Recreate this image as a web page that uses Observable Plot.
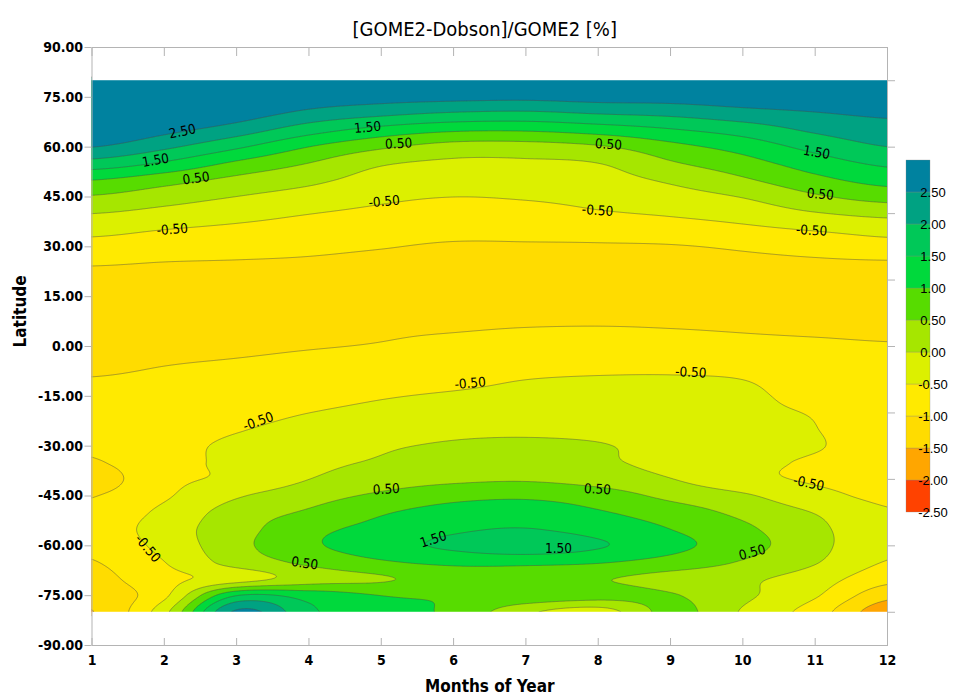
<!DOCTYPE html>
<html><head><meta charset="utf-8">
<script src="https://cdn.jsdelivr.net/npm/d3@7"></script>
<script src="https://cdn.jsdelivr.net/npm/@observablehq/plot@0.6"></script>
<style>
body{margin:0;background:#fff;}
#chart{width:963px;height:696px;}
</style></head><body><div id="chart"></div>
<script>
// ---- data ----
const months = [1,2,3,4,5,6,7,8,9,10,11,12];
const latitudes = d3.range(-80, 81, 5); // -80 ... 80
// one array per month, values at latitudes -80, -75, ..., 80
const jan = [-1.52,-1.33,-1.18,-1.03,-0.88,-0.84,-0.88,-1.02,-1.25,-1.05,-0.92,-0.83,-0.82,-0.88,-0.98,-1.10,-1.20,-1.28,-1.30,-1.30,-1.20,-0.96,-0.68,-0.37,0.00,0.45,0.99,1.78,2.50,3.00,3.50,4.00,4.50];
const feb = [-0.15,-0.60,-0.65,-0.51,-0.35,-0.25,-0.38,-0.56,-0.63,-0.68,-0.67,-0.72,-0.77,-0.83,-0.92,-1.02,-1.15,-1.27,-1.30,-1.30,-1.20,-1.02,-0.77,-0.51,-0.16,0.22,0.69,1.41,2.09,2.63,3.10,3.60,4.10];
const mar = [2.60,1.50,-0.25,0.20,0.35,0.30,0.22,-0.05,-0.40,-0.38,-0.40,-0.53,-0.65,-0.75,-0.85,-0.96,-1.10,-1.22,-1.28,-1.28,-1.20,-1.04,-0.84,-0.61,-0.33,-0.01,0.36,0.89,1.57,2.23,2.77,3.25,3.75];
const apr = [1.60,1.30,0.25,0.60,0.90,0.85,0.57,0.30,0.00,-0.12,-0.20,-0.35,-0.50,-0.65,-0.78,-0.88,-1.03,-1.15,-1.25,-1.27,-1.20,-1.06,-0.91,-0.70,-0.49,-0.20,0.11,0.48,0.99,1.69,2.34,2.87,3.37];
const may = [1.15,1.00,0.45,0.93,1.30,1.15,0.95,0.60,0.25,0.05,-0.05,-0.20,-0.38,-0.53,-0.68,-0.80,-0.97,-1.06,-1.18,-1.22,-1.18,-1.10,-0.98,-0.80,-0.61,-0.41,-0.20,0.05,0.57,1.29,2.10,2.72,3.22];
const jun = [0.90,0.95,0.70,1.10,1.60,1.42,1.20,0.85,0.40,0.18,0.05,-0.10,-0.30,-0.45,-0.60,-0.73,-0.90,-1.02,-1.15,-1.18,-1.17,-1.12,-1.05,-0.87,-0.69,-0.50,-0.30,-0.10,0.29,1.05,1.92,2.65,3.15];
const jul = [0.10,0.85,0.75,1.10,1.85,1.52,1.25,0.92,0.45,0.20,0.08,-0.08,-0.28,-0.40,-0.50,-0.68,-0.87,-0.98,-1.12,-1.16,-1.16,-1.11,-1.04,-0.88,-0.67,-0.46,-0.28,-0.09,0.28,1.03,1.87,2.62,3.14];
const aug = [-0.25,0.70,0.55,1.03,1.55,1.30,1.05,0.75,0.30,0.08,0.03,-0.12,-0.28,-0.38,-0.46,-0.65,-0.85,-0.97,-1.10,-1.15,-1.15,-1.10,-1.04,-0.83,-0.55,-0.36,-0.19,-0.01,0.43,1.19,2.00,2.70,3.20];
const sep = [0.65,0.55,0.30,0.80,1.15,1.00,0.75,0.38,0.02,-0.15,-0.15,-0.20,-0.32,-0.40,-0.45,-0.66,-0.86,-0.99,-1.10,-1.15,-1.15,-1.10,-1.03,-0.74,-0.45,-0.20,0.07,0.43,0.83,1.43,2.10,2.72,3.22];
const oct = [-0.05,0.10,0.10,0.45,0.70,0.60,0.38,0.08,-0.35,-0.38,-0.30,-0.30,-0.40,-0.42,-0.50,-0.70,-0.90,-1.02,-1.12,-1.16,-1.15,-1.08,-0.95,-0.62,-0.30,0.02,0.42,0.79,1.19,1.70,2.29,2.83,3.33];
const nov = [-0.75,-0.45,-0.25,0.03,0.15,0.12,-0.02,-0.35,-0.55,-0.55,-0.47,-0.49,-0.53,-0.65,-0.73,-0.80,-0.93,-1.05,-1.14,-1.18,-1.15,-1.06,-0.85,-0.48,-0.04,0.42,0.85,1.24,1.65,2.07,2.45,2.93,3.43];
const dec = [-1.85,-1.35,-0.85,-0.53,-0.40,-0.38,-0.45,-0.60,-0.60,-0.65,-0.68,-0.70,-0.75,-0.80,-0.87,-0.90,-0.97,-1.08,-1.16,-1.20,-1.15,-1.05,-0.71,-0.33,0.13,0.69,1.17,1.58,1.99,2.30,2.60,3.17,3.67];
const monthSeries = [jan, feb, mar, apr, may, jun, jul, aug, sep, oct, nov, dec];

const thresholds = [-2.5,-2,-1.5,-1,-0.5,0,0.5,1,1.5,2,2.5];
const bandColors = ["#ff4200","#ffa600","#ffdc00","#ffea00","#dcf000","#a6e600","#57dc00","#00d93c","#00c858","#00a282","#00829f"];
const latTicks = d3.range(-90, 91, 15);
const rightTicks = d3.range(-80, 81, 20);
const labelMonths = [2.25,1.88,2.44,2.11,4.81,5.24,5.04,8.14,7.99,11.02,11.07,10.95,3.30,6.23,9.28,10.91,5.07,7.99,5.72,7.45,3.94,10.13,1.77];
const labelLats   = [64.7,56.0,50.6,35.2,65.9,61.0,43.6,60.8,40.9,58.4,45.8,34.9,-22.6,-11.1,-7.8,-41.2,-43.0,-43.0,-58.1,-60.8,-65.3,-62.0,-60.8];
const labelTexts  = ["2.50","1.50","0.50","-0.50","1.50","0.50","-0.50","0.50","-0.50","1.50","0.50","-0.50","-0.50","-0.50","-0.50","-0.50","0.50","0.50","1.50","1.50","0.50","0.50","-0.50"];
const labelAngles = [-12,-10,-8,-4,-5,-3,-5,3,4,10,5,3,-20,-5,3,12,-3,3,-18,0,8,-15,50];

// ---- smooth field through the read values (Catmull-Rom) ----
function cr(p0,p1,p2,p3,t){
  return 0.5*((2*p1)+(-p0+p2)*t+(2*p0-5*p1+4*p2-p3)*t*t+(-p0+3*p1-3*p2+p3)*t*t*t);
}
const nM = months.length, nL = latitudes.length, dLat = latitudes[1]-latitudes[0];
function field(m, lat){
  const u = Math.max(0, Math.min(nM-1, m - months[0]));
  const v = Math.max(0, Math.min(nL-1, (lat - latitudes[0]) / dLat));
  const i = Math.min(Math.floor(u), nM-2), t = u - i;
  const j = Math.min(Math.floor(v), nL-2), s = v - j;
  const ci = k => monthSeries[Math.max(0, Math.min(nM-1, k))];
  const cj = k => Math.max(0, Math.min(nL-1, k));
  const row = jj => { const q = cj(jj); return cr(ci(i-1)[q], ci(i)[q], ci(i+1)[q], ci(i+2)[q], t); };
  return cr(row(j-1), row(j), row(j+1), row(j+2), s);
}

const fmt2 = d => d3.format(".2f")(d).replace("\u2212", "-");
const contourLabels = labelTexts.map((text, k) => ({month: labelMonths[k], lat: labelLats[k], text, angle: labelAngles[k]}));
const latMin = latitudes[0], latMax = latitudes[nL-1];
const gray = "#b4b4b4";
const condensed = '"DejaVu Sans Condensed", "DejaVu Sans", sans-serif';

const plot = Plot.plot({
  width: 963, height: 696,
  marginTop: 47, marginBottom: 51, marginLeft: 91.5, marginRight: 76,
  x: {domain: [months[0], months[nM-1]]},
  y: {domain: [-90, 90]},
  color: {type: "threshold", domain: thresholds.slice(1), range: bandColors},
  style: {fontFamily: condensed, fontStretch: "condensed", background: "white", color: "black"},
  marks: [
    Plot.contour({
      fill: field,
      x1: months[0] - 0.1, x2: months[nM-1] + 0.1, y1: latMin - 1, y2: latMax + 1,
      thresholds, pixelSize: 1,
      stroke: "#4a4a4a", strokeWidth: 0.55, strokeOpacity: 0.85,
      clip: "frame"
    }),
    Plot.rect([[latMax, 90], [-90, latMin]], {x1: months[0], x2: months[nM-1], y1: d => d[0], y2: d => d[1], fill: "white"}),
    Plot.text(contourLabels, {x: "month", y: "lat", text: "text", rotate: "angle", fontSize: 13.5, fill: "black", fontFamily: condensed}),
    Plot.frame({stroke: gray}),
    Plot.axisY({ticks: latTicks, tickSize: 7, tickPadding: 2, tickFormat: fmt2, fontWeight: "bold", fontSize: 14, label: null, stroke: gray, fill: "black"}),
    Plot.axisY({anchor: "right", ticks: rightTicks, tickSize: 7, tickFormat: () => "", label: null, stroke: gray}),
    Plot.axisX({anchor: "top", ticks: months, tickSize: -8, tickFormat: () => "", label: null, stroke: gray}),
    Plot.axisX({anchor: "bottom", ticks: months, tickSize: -7, tickFormat: () => "", label: null, stroke: gray}),
    Plot.axisX({anchor: "bottom", ticks: months, tickSize: 0, tickPadding: 10, fontWeight: "bold", fontSize: 14, label: null, fill: "black"}),
    Plot.text(["[GOME2-Dobson]/GOME2 [%]"], {frameAnchor: "top", dy: -26, dx: -5, fontSize: 20, fill: "black"}),
    Plot.text(["Months of Year"], {frameAnchor: "bottom", dy: 46, fontSize: 17, fontWeight: "bold", fill: "black"}),
    Plot.text(["Latitude"], {frameAnchor: "left", dx: -71, dy: 1, rotate: -90, fontSize: 17, fontWeight: "bold", fill: "black"})
  ]
});
document.getElementById("chart").appendChild(plot);

// ---- vertical colour bar on the right ----
const svg = d3.select(plot);
const ly = d3.scaleLinear().domain([thresholds[0], thresholds[thresholds.length-1] + 0.5]).range([512, 160]);
const lg = svg.append("g");
lg.selectAll("rect").data(thresholds).join("rect")
  .attr("x", 906).attr("width", 24)
  .attr("y", (d) => ly(d + 0.5)).attr("height", (d) => ly(d) - ly(d + 0.5))
  .attr("fill", (d, k) => bandColors[k])
  .attr("stroke", "#888").attr("stroke-width", 0.3);
lg.selectAll("text").data(thresholds).join("text")
  .attr("x", 933).attr("y", (d) => ly(d)).attr("dy", "0.35em")
  .attr("font-family", '"Liberation Sans", Arial, sans-serif').attr("font-size", 13)
  .attr("fill", "black")
  .text((d) => fmt2(d));
</script></body></html>
